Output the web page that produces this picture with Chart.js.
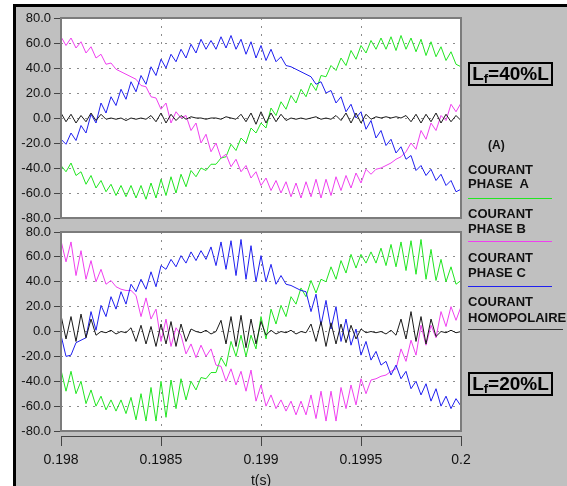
<!DOCTYPE html>
<html>
<head>
<meta charset="utf-8">
<script src="https://cdn.jsdelivr.net/npm/chart.js@4/dist/chart.umd.min.js"></script>
<style>
  body { margin: 0; width: 567px; height: 486px; overflow: hidden; position: relative; background: #fff;
         font-family: "Liberation Sans", Arial, sans-serif; }
  #frame { position: absolute; left: 13px; top: 4px; right: 0; bottom: 0; background: #c0c0c0;
           border-left: 3px solid #000; border-top: 3px solid #000; }
  canvas { position: absolute; left: 0; }
  #topChart { top: 0; }
  #bottomChart { top: 225px; }
  .lbl { position: absolute; left: 468px; font-size: 13px; font-weight: bold; line-height: 14px; color: #111; white-space: nowrap; }
  .key { position: absolute; left: 468px; width: 84px; height: 1px; }
  .tag { position: absolute; left: 468px; width: 85px; height: 24px; box-sizing: border-box; border: 2px solid #000;
         font-size: 19px; font-weight: bold; line-height: 19px; text-align: center; color: #000; }
  .tag sub { font-size: 13px; line-height: 0; vertical-align: -3px; }
</style>
</head>
<body>
<div id="frame"></div>
<canvas id="topChart" width="567" height="225"></canvas>
<canvas id="bottomChart" width="567" height="261"></canvas>

<div class="tag" style="top:62px">L<sub>f</sub>=40%L</div>
<div class="lbl" style="left:488px; top:138px; font-size:12px">(A)</div>
<div class="lbl" style="top:163px">COURANT</div>
<div class="lbl" style="top:177px">PHASE&nbsp; A</div>
<div class="key" style="top:198px; background:#22e622"></div>
<div class="lbl" style="top:207px">COURANT</div>
<div class="lbl" style="top:222px">PHASE B</div>
<div class="key" style="top:241px; background:#f040f0"></div>
<div class="lbl" style="top:251px">COURANT</div>
<div class="lbl" style="top:266px">PHASE C</div>
<div class="key" style="top:286px; background:#2020f0"></div>
<div class="lbl" style="top:295px">COURANT</div>
<div class="lbl" style="top:311px">HOMOPOLAIRE</div>
<div class="key" style="top:329px; width:95px; background:#333"></div>
<div class="tag" style="top:372px">L<sub>f</sub>=20%L</div>

<script>
// time samples (s), every 0.000025 s
const times = [
  0.198, 0.198025, 0.19805, 0.198075, 0.1981, 0.198125, 0.19815, 0.198175, 0.1982, 0.198225,
  0.19825, 0.198275, 0.1983, 0.198325, 0.19835, 0.198375, 0.1984, 0.198425, 0.19845, 0.198475,
  0.1985, 0.198525, 0.19855, 0.198575, 0.1986, 0.198625, 0.19865, 0.198675, 0.1987, 0.198725,
  0.19875, 0.198775, 0.1988, 0.198825, 0.19885, 0.198875, 0.1989, 0.198925, 0.19895, 0.198975,
  0.199, 0.199025, 0.19905, 0.199075, 0.1991, 0.199125, 0.19915, 0.199175, 0.1992, 0.199225,
  0.19925, 0.199275, 0.1993, 0.199325, 0.19935, 0.199375, 0.1994, 0.199425, 0.19945, 0.199475,
  0.1995, 0.199525, 0.19955, 0.199575, 0.1996, 0.199625, 0.19965, 0.199675, 0.1997, 0.199725,
  0.19975, 0.199775, 0.1998, 0.199825, 0.19985, 0.199875, 0.1999, 0.199925, 0.19995, 0.199975,
  0.2
];

const tickTimes = [0.198, 0.1985, 0.199, 0.1995, 0.2];
const xTickLabels = ["0.198", "0.1985", "0.199", "0.1995", "0.2"];
const yTickValues = [-80, -60, -40, -20, 0, 20, 40, 60, 80];
const yTickLabels = ["-80.0", "-60.0", "-40.0", "-20.0", "0.0", "20.0", "40.0", "60.0", "80.0"];

// Lf = 40% L (top panel), currents in A
const phaseA40 = [
  -38, -43, -36, -46, -43, -53, -46, -56, -50, -59,
  -53, -62, -54, -63, -54, -64, -54, -65, -52, -64,
  -49, -62, -47, -60, -45, -55, -42, -47, -40, -42,
  -37, -37, -32, -31, -21, -26, -16, -20, -8, -12,
  -4, -8, 8, 2, 13, 7, 18, 12, 23, 17,
  28, 22, 34, 33, 42, 38, 48, 42, 54, 47,
  58, 52, 62, 55, 64, 55, 65, 54, 66, 55,
  64, 53, 63, 50, 61, 49, 57, 46, 53, 43, 41
];
const phaseB40 = [
  65, 58, 64, 56, 61, 52, 57, 48, 51, 43,
  44, 39, 37, 35, 33, 31, 26, 25, 17, 16,
  7, 12, -4, 5, 0, 2, -10, -4, -20, -13,
  -27, -20, -32, -29, -39, -33, -43, -38, -48, -43,
  -54, -48, -58, -50, -60, -51, -63, -52, -64, -51,
  -63, -49, -64, -49, -62, -47, -58, -46, -56, -44,
  -52, -41, -45, -41, -40, -38, -36, -33, -31, -27,
  -20, -25, -10, -17, -4, -10, 2, -2, 11, 5, 12
];
const phaseC40 = [
  -17, -21, -12, -18, -6, -12, 3, -4, 12, 4,
  17, 10, 23, 15, 29, 21, 34, 27, 41, 34,
  47, 40, 51, 45, 55, 48, 59, 52, 63, 55,
  62, 55, 65, 56, 66, 55, 63, 51, 61, 48,
  58, 46, 55, 45, 49, 42, 41, 39, 37, 35,
  33, 27, 29, 20, 22, 12, 17, 5, 11, 0,
  5, -9, -2, -16, -10, -22, -17, -28, -23, -33,
  -30, -42, -38, -46, -41, -50, -45, -54, -50, -59, -57
];
const homopolar40 = [
  4, -3, 3, -4, 2, -3, 4, -2, 3, -1,
  0, -1, 0, -2, 0, -1, 0, -1, 2, -3,
  4, -4, 3, -2, 2, -1, 1, 0, 0, -1,
  0, 0, -1, 1, 0, -1, 3, -3, 4, -5,
  5, -4, 4, -3, 3, -2, 0, -1, 0, -1,
  0, 1, -1, 0, -1, 2, -2, 4, -4, 4,
  -4, 3, -1, 1, 0, 1, 0, 1, 0, 2,
  -3, 3, -4, 3, -3, 4, -4, 3, -3, 2, -2
];

// Lf = 20% L (bottom panel)
const phaseA20 = [
  -31, -48, -32, -50, -40, -58, -47, -60, -52, -63,
  -55, -64, -55, -66, -53, -71, -50, -72, -45, -72,
  -40, -69, -39, -62, -38, -55, -40, -47, -37, -38,
  -33, -33, -21, -28, -8, -20, -3, -20, -3, -14,
  12, -6, 18, 6, 21, 12, 28, 22, 35, 28,
  41, 31, 42, 40, 52, 42, 57, 47, 62, 51,
  62, 55, 64, 55, 67, 53, 70, 52, 72, 49,
  73, 46, 74, 42, 66, 41, 58, 40, 52, 38, 41
];
const phaseB20 = [
  73, 56, 72, 45, 65, 42, 57, 40, 50, 38,
  41, 36, 34, 33, 33, 29, 12, 27, 10, 18,
  -8, 10, -12, 3, -3, -18, -10, -21, -11, -20,
  -14, -27, -28, -40, -30, -43, -32, -48, -31, -56,
  -43, -60, -51, -62, -55, -64, -56, -67, -56, -67,
  -51, -70, -48, -72, -48, -72, -45, -62, -43, -59,
  -38, -50, -39, -38, -36, -35, -32, -30, -14, -24,
  -7, -19, 5, -11, 5, -5, 16, 4, 20, 9, 20
];
const phaseC20 = [
  -3, -20, -19, -9, -7, -5, 16, 1, 21, 12,
  28, 18, 32, 22, 38, 32, 42, 34, 48, 36,
  53, 50, 58, 52, 61, 55, 64, 57, 65, 58,
  68, 53, 72, 50, 73, 45, 74, 42, 69, 40,
  61, 40, 54, 38, 45, 38, 37, 35, 33, 32,
  16, 30, 5, 25, 2, 20, -8, 10, -11, 2,
  -19, -8, -23, -16, -27, -24, -35, -27, -38, -32,
  -46, -40, -51, -42, -56, -46, -60, -52, -62, -54, -60
];
const homopolar20 = [
  13, -6, 12, -8, 14, -5, 10, -3, 0, -1,
  1, -2, 0, -1, 3, -8, 5, -10, 4, -12,
  6, -10, 8, -12, 6, -8, 2, 0, -1, 1,
  -2, 0, 9, -10, 12, -12, 13, -13, 10, -10,
  8, -3, 1, -2, 0, -1, 1, -2, 0, -1,
  6, -8, 8, -12, 7, -10, 6, -9, 5, -6,
  2, -1, 0, -1, 0, -2, 1, -3, 10, -6,
  16, -8, 12, -10, 10, -4, 0, -1, 1, -1, 0
];

const FONT = '"Liberation Sans", Arial, sans-serif';

// white plot area, grey frame and (for the lower panel) the detached time axis
const panelFrame = {
  id: "panelFrame",
  beforeDraw(chart) {
    const { ctx, chartArea: a } = chart;
    ctx.save();
    ctx.fillStyle = "#fff";
    ctx.fillRect(a.left, a.top, a.right - a.left, a.bottom - a.top);
    ctx.restore();
  },
  afterDraw(chart, args, opts) {
    const { ctx, chartArea: a } = chart;
    ctx.save();
    ctx.strokeStyle = "#7c7c7c";
    ctx.lineWidth = 2;
    ctx.strokeRect(a.left, a.top, a.right - a.left, a.bottom - a.top);
    if (opts.timeAxis) {
      const xs = chart.scales.x;
      const y0 = a.bottom + 5;
      ctx.strokeStyle = "#444";
      ctx.lineWidth = 1;
      ctx.beginPath();
      ctx.moveTo(a.left, y0 + 0.5);
      ctx.lineTo(a.right, y0 + 0.5);
      xs.ticks.forEach(t => {
        const px = Math.round(xs.getPixelForValue(t.value)) + 0.5;
        ctx.moveTo(px, y0);
        ctx.lineTo(px, y0 + 10);
      });
      ctx.stroke();
    }
    ctx.restore();
  }
};

function line(data, color) {
  return { data, borderColor: color, borderWidth: 1, pointRadius: 0, tension: 0, fill: false };
}

function makePanel(canvasId, series, withAxis) {
  new Chart(document.getElementById(canvasId), {
    type: "line",
    data: {
      labels: times,
      datasets: [
        line(series[3], "#1a1a1a"),
        line(series[2], "#2020f0"),
        line(series[1], "#f040f0"),
        line(series[0], "#22e622"),
      ],
    },
    options: {
      responsive: false,
      animation: false,
      devicePixelRatio: 1,
      layout: { padding: { top: withAxis ? 7 : 18, right: 106, left: 0, bottom: 0 } },
      plugins: { legend: { display: false }, tooltip: { enabled: false }, panelFrame: { timeAxis: withAxis } },
      scales: {
        x: {
          type: "linear", min: 0.198, max: 0.2,
          afterBuildTicks: s => { s.ticks = tickTimes.map(v => ({ value: v })); },
          afterFit: s => { s.height = withAxis ? 55 : 7; s.paddingLeft = 0; s.paddingRight = 0; },
          ticks: {
            display: withAxis, autoSkip: false, maxRotation: 0, padding: 21,
            color: "#111", font: { family: FONT, size: 14 },
            callback: (v, i) => xTickLabels[i],
          },
          grid: { color: "#8c8c8c", drawTicks: false },
          border: { display: false, dash: [2, 6] },
          title: { display: withAxis, text: "t(s)", color: "#111", padding: 0, font: { family: FONT, size: 14, lineHeight: 0.7 } },
        },
        y: {
          min: -80, max: 80,
          afterBuildTicks: s => { s.ticks = yTickValues.map(v => ({ value: v })); },
          afterFit: s => { s.width = 61; s.paddingTop = 0; s.paddingBottom = 0; },
          ticks: {
            autoSkip: false, padding: 3, color: "#111", font: { family: FONT, size: 13 },
            callback: (v, i) => yTickLabels[i],
          },
          grid: { color: "#8c8c8c", tickLength: 7, tickColor: "#444", tickBorderDash: [], tickWidth: 1 },
          border: { display: false, dash: [2, 6] },
        },
      },
    },
    plugins: [panelFrame],
  });
}

makePanel("topChart", [phaseA40, phaseB40, phaseC40, homopolar40], false);
makePanel("bottomChart", [phaseA20, phaseB20, phaseC20, homopolar20], true);
</script>
</body>
</html>
